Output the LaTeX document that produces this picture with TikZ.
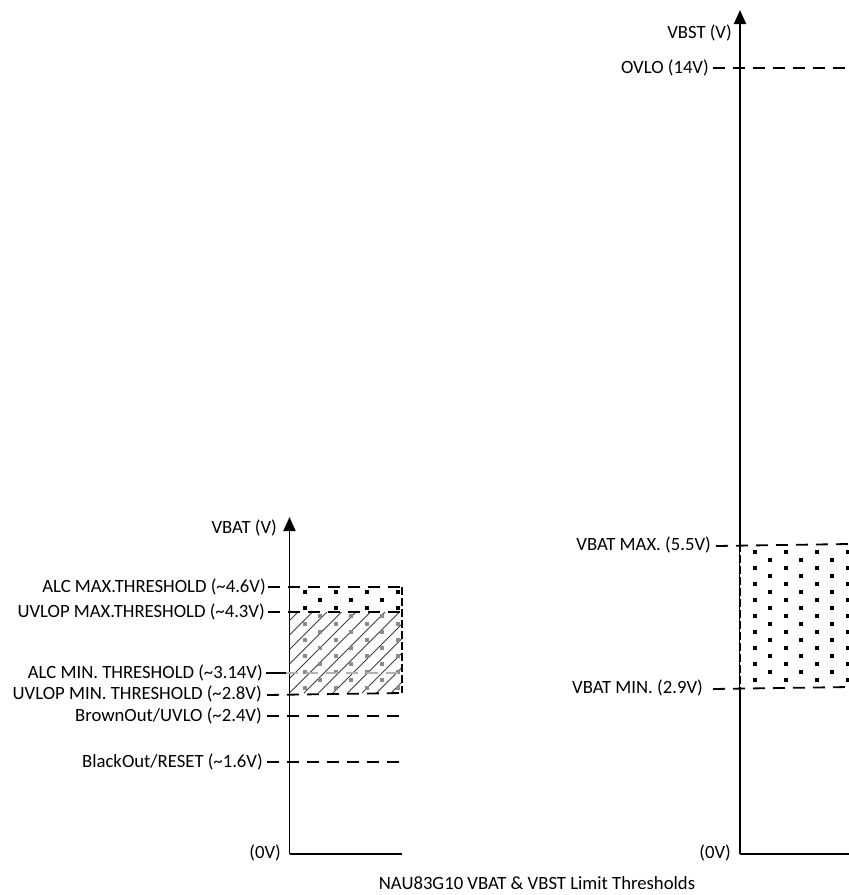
\documentclass[tikz,border=0pt]{standalone}
\usepackage{fontspec}
\setmainfont{Carlito}
\usetikzlibrary{arrows.meta}
\begin{document}
\begin{tikzpicture}[x=1pt,y=-1pt,
  lbl/.style={anchor=east, inner sep=0pt, font=\fontsize{18.7}{22}\selectfont},
  axisline/.style={line width=1.9pt},
  thr/.style={line width=1.8pt, dash pattern=on 12pt off 8pt},
  thrgray/.style={line width=1.5pt, draw=gray!60, dash pattern=on 12pt off 8pt},
  edge/.style={line width=1.4pt, dash pattern=on 8pt off 3pt},
  hatch/.style={line width=0.9pt, draw=black!75},
  blackdot/.style={fill=black},
  graydot/.style={fill=black!45},
  arr/.style={-{Triangle[length=14pt,width=12pt]}}]
\useasboundingbox (0,0) rectangle (849,895);

% ---------------- left axis ----------------
\coordinate (LO) at (289.5,854);
\coordinate (LT) at (289.5,517);
\coordinate (LE) at (402,854);
\draw[axisline,arr] (LO) -- (LT);
\draw[axisline] (LO) -- (LE);

% left box fill and patterns
\coordinate (LB1) at (289.5,587);
\coordinate (LB2) at (402,693);
\fill[white] (LB1) rectangle (LB2);
\begin{scope}
  \clip (289.5,612) rectangle (402,693);
  \foreach \k in {-9,...,9} {
    \draw[hatch] (289.5+14.5*\k,693) -- ++(90,-90);
  }
\end{scope}
\begin{scope}
  \clip (291,588) rectangle (401,692);
  \foreach \r in {0,...,12} {
    \pgfmathsetmacro{\yy}{592+8*\r}
    \pgfmathsetmacro{\xs}{isodd(\r) ? 320 : 305}
    \foreach \c in {-1,0,...,3} {
      \ifdim\yy pt<612pt
        \fill[blackdot] (\xs+31*\c-1.75,\yy-1.75) rectangle ++(3.5,3.5);
      \else
        \fill[graydot] (\xs+31*\c-1.75,\yy-1.75) rectangle ++(3.5,3.5);
      \fi
    }
  }
\end{scope}
\draw[edge] (289.5,587) -- (289.5,693);
\draw[edge] (402,587) -- (402,693);

% left labels and threshold lines
\node[lbl] (vbat) at (277,528) {VBAT (V)};
\node[lbl] (almax) at (266,587) {ALC MAX.THRESHOLD (\textasciitilde4.6V)};
\node[lbl] (uvmax) at (265,612) {UVLOP MAX.THRESHOLD (\textasciitilde4.3V)};
\node[lbl] (almin) at (263,673) {ALC MIN. THRESHOLD (\textasciitilde3.14V)};
\node[lbl] (uvmin) at (262,694) {UVLOP MIN. THRESHOLD (\textasciitilde2.8V)};
\node[lbl] (brown) at (262,716) {BrownOut/UVLO (\textasciitilde2.4V)};
\node[lbl] (black) at (263,762) {BlackOut/RESET (\textasciitilde1.6V)};
\node[lbl] (zeroL) at (281,853) {(0V)};

\coordinate (almaxR) at (402,587);
\coordinate (uvmaxR) at (402,612);
\coordinate (alminA) at (286,673);
\coordinate (alminR) at (402,673);
\coordinate (uvminR) at (402,693);
\coordinate (brownR) at (402,716);
\coordinate (blackR) at (402,762);

\draw[thr] ([xshift=2pt]almax.east) -- (almaxR);
\draw[thr] ([xshift=3pt]uvmax.east) -- (uvmaxR);
\draw[line width=1.8pt] ([xshift=3pt]almin.east) -- (alminA);
\draw[thrgray] (alminA) -- (alminR);
\draw[thr] ([xshift=5pt,yshift=-1pt]uvmin.east) -- (uvminR);
\draw[thr] ([xshift=5pt]brown.east) -- (brownR);
\draw[thr] ([xshift=4pt]black.east) -- (blackR);

% ---------------- right axis ----------------
\coordinate (RO) at (740,854);
\coordinate (RT) at (740,10);
\coordinate (RE) at (849,854);
\draw[axisline,arr] (RO) -- (RT);
\draw[axisline] (RO) -- (RE);

% right box
\fill[white] (740,544) rectangle (849,687);
\begin{scope}
  \clip (743,546) rectangle (849,686);
  \foreach \r in {0,...,16} {
    \pgfmathsetmacro{\yy}{552+8*\r}
    \pgfmathsetmacro{\xs}{isodd(\r) ? 770 : 755}
    \foreach \c in {-1,0,...,3} {
      \fill[blackdot] (\xs+31*\c-1.75,\yy-1.75) rectangle ++(3.5,3.5);
    }
  }
\end{scope}
\draw[edge] (740,544) -- (740,687);

\node[lbl] (vbst) at (732,33) {VBST (V)};
\node[lbl] (ovlo) at (709,68) {OVLO (14V)};
\node[lbl] (vmax) at (711,545) {VBAT MAX. (5.5V)};
\node[lbl] (vmin) at (703,688) {VBAT MIN. (2.9V)};
\node[lbl] (zeroR) at (731,853) {(0V)};

\coordinate (ovloR) at (849,68);
\coordinate (vmaxR) at (849,544);
\coordinate (vminR) at (849,687);
\draw[thr] ([xshift=4pt]ovlo.east) -- (ovloR);
\draw[thr] ([xshift=5pt,yshift=-1pt]vmax.east) -- (vmaxR);
\draw[thr] ([xshift=10pt,yshift=-1pt]vmin.east) -- (vminR);

% caption
\node[inner sep=0pt, font=\fontsize{18.7}{22}\selectfont] (cap) at (537,883) {NAU83G10 VBAT \& VBST Limit Thresholds};
\end{tikzpicture}
\end{document}
